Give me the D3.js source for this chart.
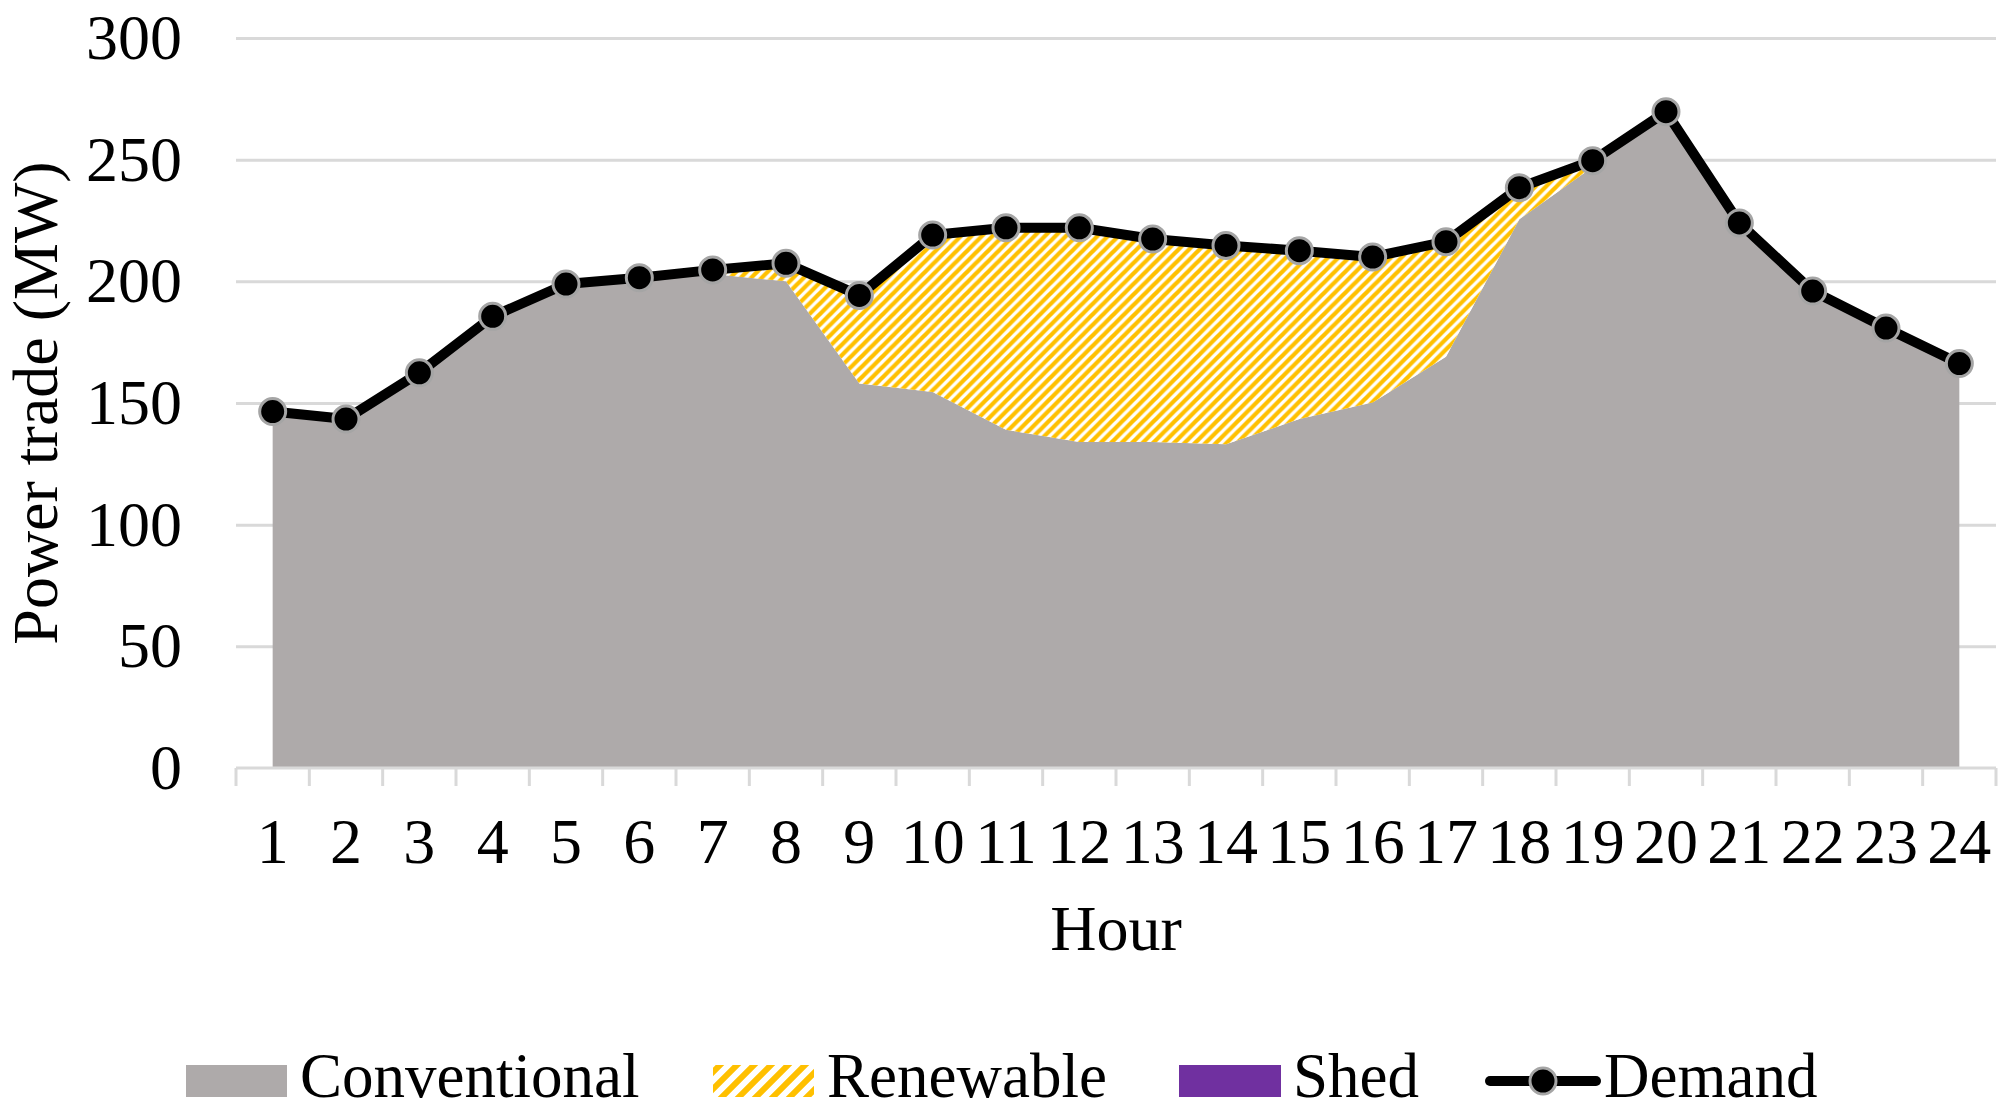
<!DOCTYPE html>
<html>
<head>
<meta charset="utf-8">
<script src="https://cdn.jsdelivr.net/npm/d3@7"></script>
<style>
  html, body { margin: 0; padding: 0; background: #fff; }
  svg { display: block; font-family: "Liberation Serif", "Times New Roman", serif; }
</style>
</head>
<body>
<svg id="chart" width="2016" height="1114"></svg>
<script>
// ---- data ----
const hours = ["1","2","3","4","5","6","7","8","9","10","11","12","13","14","15","16","17","18","19","20","21","22","23","24"];
const conventional = [146.5,143.4,162.4,185.6,198.9,201.5,203.0,200.0,158.0,154.5,139.0,134.0,134.0,133.0,143.4,150.2,169.0,225.5,247.0,269.7,224.0,196.0,180.8,166.2];
const renewable    = [0,0,0,0,0,0,1.7,7.4,36.2,64.5,83.0,88.0,83.4,81.7,69.2,59.8,47.3,13.0,2.6,0,0,0,0,0];
const shed         = [0,0,0,0,0,0,0,0,0,0,0,0,0,0,0,0,0,0,0,0,0,0,0,0];
const demand       = [146.5,143.4,162.4,185.6,198.9,201.5,204.7,207.4,194.2,219.0,222.0,222.0,217.4,214.7,212.6,210.0,216.3,238.5,249.6,269.7,224.0,196.0,180.8,166.2];
const yTicks = [0,50,100,150,200,250,300];
const seriesNames = ["Conventional","Renewable","Shed","Demand"];

// ---- layout ----
const svg = d3.select("#chart");
const L = 236, R = 1996, T = 38, B = 768;
const x = d3.scaleBand().domain(hours).range([L, R]).padding(0);
const y = d3.scaleLinear().domain([0, 300]).range([B, T]);
const cx = h => x(h) + x.bandwidth() / 2;

const defs = svg.append("defs");
function hatch(id, p, sw) {
  const pat = defs.append("pattern").attr("id", id).attr("patternUnits", "userSpaceOnUse")
    .attr("width", p).attr("height", p);
  pat.append("rect").attr("width", p).attr("height", p).attr("fill", "#fff");
  pat.append("path")
    .attr("d", `M${-p/4},${p/4} l${p/2},${-p/2} M0,${p} l${p},${-p} M${p*0.75},${p*1.25} l${p/2},${-p/2}`)
    .attr("stroke", "#FFC000").attr("stroke-width", sw);
}
hatch("hatch", 10.5, 4.2);
hatch("hatchL", 17, 6);

// gridlines
svg.append("g")
  .attr("transform", `translate(${L},0)`)
  .call(d3.axisLeft(y).tickValues(yTicks.filter(v => v > 0)).tickSize(-(R - L)).tickFormat(""))
  .call(g => g.select(".domain").remove())
  .call(g => g.selectAll("line").attr("stroke", "#D9D9D9").attr("stroke-width", 3));

// stacked areas
const table = hours.map((h, i) => ({ hour: h, Conventional: conventional[i], Renewable: renewable[i], Shed: shed[i] }));
const stack = d3.stack().keys(["Conventional", "Renewable", "Shed"])(table);
const fills = { Conventional: "#AEAAAA", Renewable: "url(#hatch)", Shed: "#7030A0" };
const area = d3.area().x(d => cx(d.data.hour)).y0(d => y(d[0])).y1(d => y(d[1]));
svg.append("g").selectAll("path").data(stack).join("path")
  .attr("d", area).attr("fill", d => fills[d.key]).attr("stroke", "none");

// x axis line and ticks
svg.append("line").attr("x1", L).attr("x2", R).attr("y1", B).attr("y2", B)
  .attr("stroke", "#D9D9D9").attr("stroke-width", 3);
const xt = d3.scaleLinear().domain([0, 24]).range([L, R]);
svg.append("g").selectAll("line").data(d3.range(0, 25)).join("line")
  .attr("x1", d => xt(d)).attr("x2", d => xt(d)).attr("y1", B).attr("y2", B + 18)
  .attr("stroke", "#D9D9D9").attr("stroke-width", 3);

// x labels
svg.append("g")
  .attr("transform", `translate(0,${B})`)
  .call(d3.axisBottom(x).tickSize(0).tickPadding(50))
  .call(g => g.select(".domain").remove())
  .call(g => g.selectAll("text").attr("font-size", 64).attr("fill", "#000")
        .attr("font-family", "Liberation Serif, Times New Roman, serif"));

// y labels
svg.append("g")
  .attr("transform", `translate(${L},0)`)
  .call(d3.axisLeft(y).tickValues(yTicks).tickSize(0).tickPadding(54))
  .call(g => g.select(".domain").remove())
  .call(g => g.selectAll("text").attr("font-size", 64).attr("fill", "#000")
        .attr("font-family", "Liberation Serif, Times New Roman, serif"));

// demand line
const line = d3.line().x((d, i) => cx(hours[i])).y(d => y(d));
svg.append("path").datum(demand).attr("d", line).attr("fill", "none")
  .attr("stroke", "#000").attr("stroke-width", 10).attr("stroke-linejoin", "round");
svg.append("g").selectAll("circle").data(demand).join("circle")
  .attr("cx", (d, i) => cx(hours[i])).attr("cy", d => y(d)).attr("r", 13)
  .attr("fill", "#000").attr("stroke", "#A5A5A5").attr("stroke-width", 3);

// axis titles
svg.append("text").attr("x", (L + R) / 2).attr("y", 950).attr("text-anchor", "middle")
  .attr("font-size", 64).text("Hour");
svg.append("text").attr("transform", `translate(57,${(T + B) / 2}) rotate(-90)`)
  .attr("text-anchor", "middle").attr("font-size", 64).text("Power trade (MW)");

// legend
const lg = svg.append("g");
const ly = 1081, lb = 1097;
lg.append("rect").attr("x", 186).attr("y", 1065).attr("width", 101).attr("height", 32).attr("fill", "#AEAAAA");
lg.append("text").attr("x", 300).attr("y", lb).attr("font-size", 63).text(seriesNames[0]);
lg.append("rect").attr("x", 713).attr("y", 1065).attr("width", 101).attr("height", 32).attr("fill", "url(#hatchL)");
lg.append("text").attr("x", 827).attr("y", lb).attr("font-size", 63).text(seriesNames[1]);
lg.append("rect").attr("x", 1179).attr("y", 1065).attr("width", 102).attr("height", 32).attr("fill", "#7030A0");
lg.append("text").attr("x", 1293).attr("y", lb).attr("font-size", 63).text(seriesNames[2]);
lg.append("line").attr("x1", 1490).attr("x2", 1596).attr("y1", ly).attr("y2", ly)
  .attr("stroke", "#000").attr("stroke-width", 10).attr("stroke-linecap", "round");
lg.append("circle").attr("cx", 1543).attr("cy", ly).attr("r", 13).attr("fill", "#000")
  .attr("stroke", "#A5A5A5").attr("stroke-width", 3);
lg.append("text").attr("x", 1604).attr("y", lb).attr("font-size", 63).text(seriesNames[3]);
</script>
</body>
</html>
